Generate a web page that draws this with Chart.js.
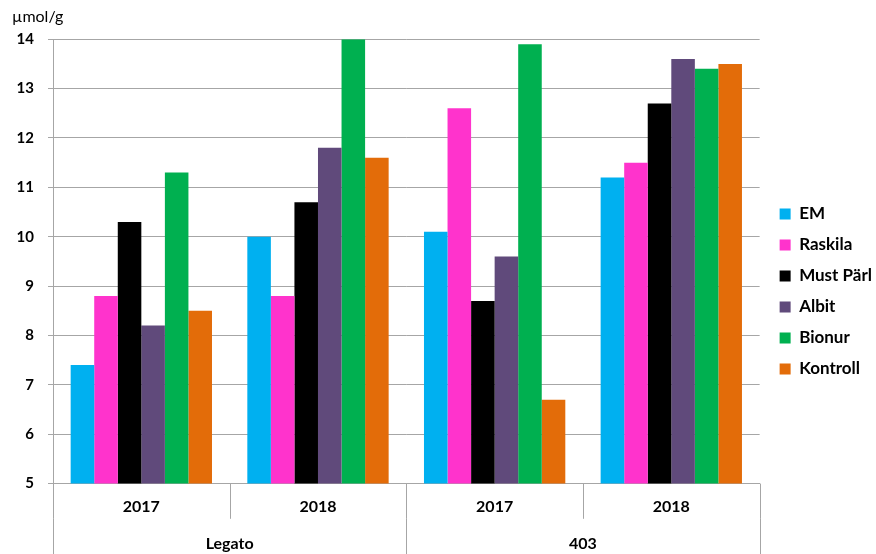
<!DOCTYPE html>
<html>
<head>
<meta charset="utf-8">
<script src="https://cdn.jsdelivr.net/npm/chart.js@4/dist/chart.umd.min.js"></script>
<style>
    html, body { margin: 0; padding: 0; background: #fff; }
</style>
</head>
<body>
<canvas id="chart" width="876" height="554"></canvas>
<script>
// Categories
const years = ['2017', '2018', '2017', '2018'];
const groups = ['Legato', '403'];
const yTicks = [5, 6, 7, 8, 9, 10, 11, 12, 13, 14];

// Series values (µmol/g), one per year/group
const em = [7.4, 10.0, 10.1, 11.2];
const raskila = [8.8, 8.8, 12.6, 11.5];
const mustParl = [10.3, 10.7, 8.7, 12.7];
const albit = [8.2, 11.8, 9.6, 13.6];
const bionur = [11.3, 14.0, 13.9, 13.4];
const kontroll = [8.5, 11.6, 6.7, 13.5];

const FONT = 'Lato, "Liberation Sans", sans-serif';
const GRID = '#A6A6A6';

function series(label, data, color) {
    return {
        label: label,
        data: data,
        backgroundColor: color,
        borderWidth: 0,
        categoryPercentage: 0.8,
        barPercentage: 1.0,
        xAxisID: 'x'
    };
}

// Excel-style separators between the category labels
function boundaries(scale, n) {
    const xs = [scale.left];
    for (let i = 0; i < n - 1; i++) {
        xs.push((scale.getPixelForValue(i) + scale.getPixelForValue(i + 1)) / 2);
    }
    xs.push(scale.right);
    return xs;
}
const separators = {
    id: 'separators',
    afterLayout(chart) {
        // small gap between plot and legend, like the original
        chart.legend.left += 6;
        chart.legend.right += 6;
    },
    afterDraw(chart) {
        const ctx = chart.ctx;
        const sx = chart.scales.x;
        const sg = chart.scales.x2;
        const mid = sx.bottom + 1;
        ctx.save();
        ctx.strokeStyle = GRID;
        ctx.lineWidth = 1;
        ctx.beginPath();
        boundaries(sx, years.length).forEach(px => {
            const p = Math.round(px) + 0.5;
            ctx.moveTo(p, sx.top);
            ctx.lineTo(p, mid);
        });
        boundaries(sg, groups.length).forEach(px => {
            const p = Math.round(px) + 0.5;
            ctx.moveTo(p, mid);
            ctx.lineTo(p, chart.height);
        });
        ctx.stroke();
        ctx.restore();
    }
};

new Chart(document.getElementById('chart'), {
    type: 'bar',
    data: {
        labels: years,
        datasets: [
            series('EM', em, '#00B0F0'),
            series('Raskila', raskila, '#FF33CC'),
            series('Must Pärl', mustParl, '#000000'),
            series('Albit', albit, '#604A7B'),
            series('Bionur', bionur, '#00B050'),
            series('Kontroll', kontroll, '#E36C09')
        ]
    },
    plugins: [separators],
    options: {
        responsive: false,
        animation: false,
        layout: { padding: { left: 12, right: 0, top: 0, bottom: 1 } },
        plugins: {
            title: {
                display: true,
                text: 'µmol/g',
                align: 'start',
                color: '#000',
                font: { family: FONT, size: 16, weight: 'normal' },
                padding: { top: 7, bottom: 13 }
            },
            legend: {
                position: 'right',
                title: { display: true, text: ' ', font: { size: 10 }, padding: { top: 9, bottom: 9 } },
                labels: {
                    boxWidth: 11,
                    boxHeight: 11,
                    padding: 14,
                    color: '#000',
                    font: { family: FONT, size: 17, weight: 'bold' }
                }
            },
            tooltip: { enabled: false }
        },
        scales: {
            y: {
                min: 5,
                max: 14,
                afterBuildTicks: (axis) => { axis.ticks = yTicks.map(v => ({ value: v })); },
                afterFit: (axis) => { axis.width = 41; },
                grid: { color: GRID, tickLength: 5 },
                border: { color: GRID },
                ticks: {
                    color: '#000',
                    padding: 14,
                    font: { family: FONT, size: 15, weight: 'bold' }
                }
            },
            x: {
                type: 'category',
                offset: true,
                grid: { display: false, tickLength: 13 },
                border: { display: true, color: GRID },
                ticks: {
                    color: '#000',
                    padding: 1,
                    maxRotation: 0,
                    autoSkip: false,
                    font: { family: FONT, size: 16, weight: 'bold' }
                }
            },
            x2: {
                type: 'category',
                position: 'bottom',
                labels: groups,
                offset: true,
                grid: { display: false, tickLength: 16 },
                border: { display: false },
                ticks: {
                    color: '#000',
                    padding: 0,
                    maxRotation: 0,
                    autoSkip: false,
                    font: { family: FONT, size: 16, weight: 'bold' }
                }
            }
        }
    }
});
</script>
</body>
</html>
